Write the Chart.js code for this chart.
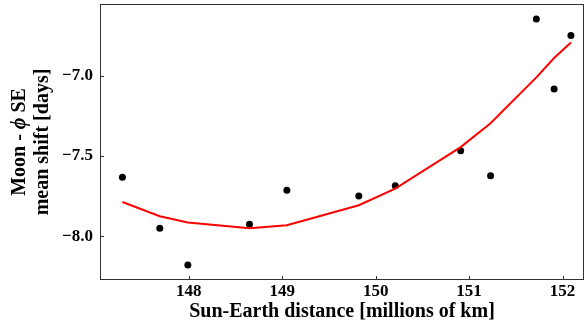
<!DOCTYPE html>
<html lang="en">
<head>
    <meta charset="UTF-8">
    <title>Moon - phi SE mean shift</title>
    <script src="https://cdn.jsdelivr.net/npm/chart.js"></script>
    <style>
        html, body { margin: 0; padding: 0; background: #fff; }
        #wrap { width: 588px; height: 326px; }
    </style>
</head>
<body>
    <div id="wrap"><canvas id="chaShift"></canvas></div>

    <script>
        // distance [millions of km] and mean shift [days]
        const distance = [147.29, 147.69, 147.99, 148.65, 149.05, 149.82, 150.21, 150.91, 151.23, 151.72, 151.91, 152.09];
        const meanShift = [-7.632, -7.950, -8.180, -7.925, -7.714, -7.750, -7.685, -7.468, -7.623, -6.646, -7.083, -6.750];
        const fitShift = [-7.787, -7.876, -7.915, -7.950, -7.932, -7.807, -7.704, -7.445, -7.296, -7.010, -6.890, -6.793];

        const xTicks = [148, 149, 150, 151, 152];
        const yTicks = [-8.0, -7.5, -7.0];

        const serif = "'Liberation Serif', 'Times New Roman', serif";
        const frameColor = '#333';

        // box around the plot plus inward tick marks
        const framePlugin = {
            id: 'frame',
            afterDatasetsDraw(chart) {
                const { ctx, chartArea: a, scales } = chart;
                ctx.save();
                ctx.strokeStyle = frameColor;
                ctx.lineWidth = 1;
                ctx.strokeRect(Math.round(a.left) + 0.5, Math.round(a.top) + 0.5,
                    Math.round(a.right - a.left) - 1, Math.round(a.bottom - a.top) - 1);
                ctx.beginPath();
                xTicks.forEach(v => {
                    const px = Math.round(scales.x.getPixelForValue(v)) + 0.5;
                    ctx.moveTo(px, a.bottom);
                    ctx.lineTo(px, a.bottom - 4);
                });
                yTicks.forEach(v => {
                    const py = Math.round(scales.y.getPixelForValue(v)) + 0.5;
                    ctx.moveTo(a.left, py);
                    ctx.lineTo(a.left + 4, py);
                });
                ctx.stroke();
                ctx.restore();
            }
        };

        // y title in two lines, phi in italic
        const yTitlePlugin = {
            id: 'yTitle',
            afterDraw(chart) {
                const { ctx, chartArea: a } = chart;
                const cy = (a.top + a.bottom) / 2;
                const bold = 'bold 20px ' + serif;
                const ital = 'italic bold 20px ' + serif;
                const parts = [['Moon - ', bold], ['ϕ', ital], [' SE', bold]];
                ctx.save();
                ctx.fillStyle = '#000';
                ctx.textBaseline = 'middle';
                ctx.translate(20, cy);
                ctx.rotate(-Math.PI / 2);
                let total = 0;
                parts.forEach(p => { ctx.font = p[1]; total += ctx.measureText(p[0]).width; });
                let x = -total / 2;
                parts.forEach(p => {
                    ctx.font = p[1];
                    ctx.textAlign = 'left';
                    ctx.fillText(p[0], x, 0);
                    x += ctx.measureText(p[0]).width;
                });
                ctx.restore();

                ctx.save();
                ctx.fillStyle = '#000';
                ctx.font = bold;
                ctx.textAlign = 'center';
                ctx.textBaseline = 'middle';
                ctx.translate(43, cy);
                ctx.rotate(-Math.PI / 2);
                ctx.fillText('mean shift [days]', 0, 0);
                ctx.restore();
            }
        };

        new Chart(document.getElementById('chaShift').getContext('2d'), {
            type: 'scatter',
            data: {
                datasets: [{
                    label: 'fit',
                    data: distance.map((d, i) => ({ x: d, y: fitShift[i] })),
                    showLine: true,
                    borderColor: '#ff0000',
                    borderWidth: 2,
                    pointRadius: 0,
                    tension: 0
                }, {
                    label: 'mean shift',
                    data: distance.map((d, i) => ({ x: d, y: meanShift[i] })),
                    backgroundColor: '#000',
                    borderColor: '#000',
                    pointRadius: 3.5,
                    borderWidth: 0
                }]
            },
            options: {
                responsive: true,
                maintainAspectRatio: false,
                animation: false,
                layout: { padding: { top: 3, right: 2, left: 0, bottom: 0 } },
                plugins: {
                    legend: { display: false },
                    tooltip: { enabled: false }
                },
                scales: {
                    x: {
                        type: 'linear',
                        min: 147.05,
                        max: 152.23,
                        afterBuildTicks: s => { s.ticks = xTicks.map(v => ({ value: v })); },
                        afterFit: s => { s.height = 46; s.paddingLeft = 0; s.paddingRight = 0; },
                        grid: { display: false, drawTicks: false },
                        border: { display: false },
                        ticks: {
                            color: '#000',
                            padding: 1,
                            maxRotation: 0,
                            font: { family: serif, size: 17, weight: 'bold' },
                            callback: v => String(v)
                        },
                        title: {
                            display: true,
                            text: 'Sun-Earth distance [millions of km]',
                            color: '#000',
                            padding: { top: 0, bottom: 2 },
                            font: { family: serif, size: 20, weight: 'bold' }
                        }
                    },
                    y: {
                        min: -8.273,
                        max: -6.553,
                        afterBuildTicks: s => { s.ticks = yTicks.map(v => ({ value: v })); },
                        afterFit: s => { s.width = 100; s.paddingTop = 0; s.paddingBottom = 0; },
                        grid: { display: false, drawTicks: false },
                        border: { display: false },
                        ticks: {
                            color: '#000',
                            padding: 7,
                            font: { family: serif, size: 17, weight: 'bold' },
                            callback: v => v.toFixed(1).replace('-', '\u2212')
                        }
                    }
                }
            },
            plugins: [framePlugin, yTitlePlugin]
        });
    </script>
</body>
</html>
